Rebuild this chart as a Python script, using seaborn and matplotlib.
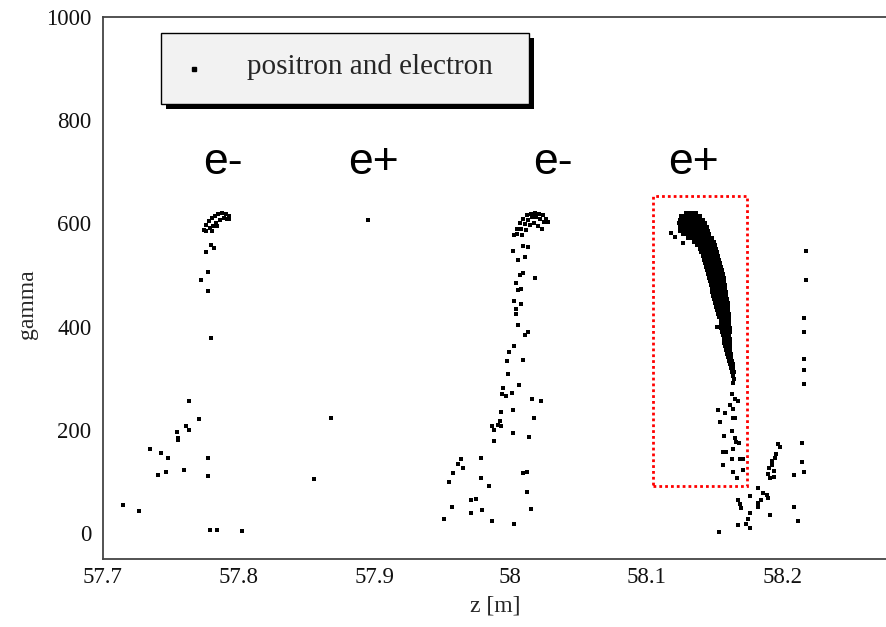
import matplotlib
matplotlib.use("Agg")
import matplotlib.pyplot as plt
import seaborn as sns
import pandas as pd
from matplotlib.patches import Rectangle
from matplotlib.ticker import MultipleLocator, FormatStrFormatter

# first e- bunch
z_ele1 = [57.7149, 57.7269, 57.7348, 57.7429, 57.7478, 57.7409, 57.7468, 57.7549, 57.7556, 57.7556,
          57.7611, 57.7637, 57.7706, 57.7598, 57.7777, 57.7777, 57.7787, 57.7839, 57.8027, 57.7637,
          57.7797, 57.7817, 57.7758, 57.7777, 57.7726, 57.7777, 57.7797,
          57.7742, 57.7760, 57.7782, 57.7804, 57.7826, 57.7852, 57.7878, 57.7904, 57.7926, 57.7933,
          57.7760, 57.7786, 57.7812, 57.7837, 57.7863, 57.7889, 57.7915, 57.7843, 57.7802]
g_ele1 = [54, 43, 164, 156, 145, 113, 118, 196, 185, 180,
          207, 200, 221, 123, 145, 110, 7, 7, 5, 256,
          559, 552, 544, 506, 490, 470, 378,
          587, 597, 605, 610, 615, 618, 620, 619, 614, 608,
          585, 591, 595, 601, 607, 611, 609, 595, 585]

# lone points near the first e+
z_pos1 = [57.8682, 57.8555, 57.8952]
g_pos1 = [224, 105, 606]

# second e- bunch
z_ele2 = [58.0023, 58.0045, 58.0067, 58.0093, 58.0122, 58.0152, 58.0181, 58.0211, 58.0240, 58.0262,
          58.0280, 58.0049, 58.0078, 58.0104, 58.0130, 58.0159, 58.0189, 58.0218, 58.0247, 58.0085,
          58.0115, 58.0144, 58.0174, 58.0203, 58.0229,
          58.0021, 58.0058, 58.0107, 58.0095, 58.0127, 58.0181, 58.0071, 58.0091, 58.0039, 58.0058,
          58.0078, 58.0027, 58.0078, 58.0039, 58.0039, 58.0058, 58.0107, 58.0127, 58.0027, 57.9990,
          57.9977, 58.0095, 57.9985, 57.9948, 58.0066, 57.9936, 57.9965, 58.0010, 58.0157, 58.0225,
          57.9929, 58.0017, 58.0176, 57.9924, 57.9911, 57.9929, 57.9862, 57.9882, 58.0017, 57.9879,
          58.0139, 57.9637, 57.9617, 57.9649, 57.9781, 57.9580, 57.9550, 57.9781, 57.9843, 58.0091,
          58.0120, 58.0120, 57.9710, 57.9747, 57.9573, 57.9710, 57.9789, 58.0149, 57.9511, 57.9862,
          58.0027]
g_ele2 = [577, 589, 600, 609, 617, 619, 620, 618, 616, 609,
          603, 579, 589, 599, 607, 612, 612, 608, 603, 577,
          587, 597, 601, 595, 589,
          546, 530, 535, 556, 554, 495, 501, 504, 484, 471,
          473, 450, 444, 434, 424, 403, 384, 390, 362, 351,
          333, 335, 309, 282, 287, 269, 266, 271, 259, 257,
          235, 238, 224, 218, 209, 207, 207, 200, 194, 178,
          186, 144, 134, 127, 146, 116, 99, 107, 91, 116,
          118, 80, 64, 66, 50, 39, 45, 47, 27, 23,
          18]

# dense e+ bunch (boxed): gamma rows and the z values read in each row
arc_gamma = [621, 614, 607, 600, 593, 586, 579, 572, 565, 558, 551, 544, 537, 530, 523,
             516, 509, 502, 495, 488, 481, 474, 467, 460, 453, 446, 439, 432, 425, 418,
             411, 404, 397, 390, 383, 376, 369, 362, 355, 348, 341, 334, 327, 320, 313]
arc_z = [
    [58.1291, 58.1315, 58.1340, 58.1364],
    [58.1256, 58.1279, 58.1302, 58.1325, 58.1348, 58.1371, 58.1394],
    [58.1247, 58.1271, 58.1295, 58.1319, 58.1343, 58.1367, 58.1391, 58.1414],
    [58.1243, 58.1266, 58.1289, 58.1312, 58.1335, 58.1358, 58.1381, 58.1405, 58.1429],
    [58.1245, 58.1270, 58.1295, 58.1320, 58.1345, 58.1370, 58.1395, 58.1420, 58.1444],
    [58.1251, 58.1276, 58.1301, 58.1326, 58.1352, 58.1378, 58.1404, 58.1430, 58.1455],
    [58.1273, 58.1297, 58.1321, 58.1345, 58.1369, 58.1393, 58.1417, 58.1441, 58.1464],
    [58.1306, 58.1330, 58.1354, 58.1378, 58.1402, 58.1426, 58.1450, 58.1474, 58.1486],
    [58.1349, 58.1372, 58.1395, 58.1418, 58.1441, 58.1463, 58.1484, 58.1497],
    [58.1376, 58.1400, 58.1424, 58.1448, 58.1471, 58.1494, 58.1507],
    [58.1396, 58.1418, 58.1440, 58.1462, 58.1483, 58.1503, 58.1516],
    [58.1404, 58.1411, 58.1436, 58.1461, 58.1486, 58.1510, 58.1523],
    [58.1420, 58.1427, 58.1450, 58.1473, 58.1495, 58.1517, 58.1530],
    [58.1428, 58.1435, 58.1457, 58.1479, 58.1501, 58.1524, 58.1537],
    [58.1435, 58.1442, 58.1464, 58.1486, 58.1508, 58.1530, 58.1543],
    [58.1441, 58.1448, 58.1470, 58.1492, 58.1515, 58.1538, 58.1550],
    [58.1447, 58.1454, 58.1476, 58.1498, 58.1521, 58.1544, 58.1556],
    [58.1454, 58.1461, 58.1483, 58.1506, 58.1528, 58.1551, 58.1562],
    [58.1461, 58.1468, 58.1490, 58.1512, 58.1535, 58.1557, 58.1568],
    [58.1468, 58.1475, 58.1497, 58.1518, 58.1540, 58.1561, 58.1573],
    [58.1475, 58.1482, 58.1503, 58.1524, 58.1545, 58.1565, 58.1577],
    [58.1481, 58.1488, 58.1509, 58.1530, 58.1550, 58.1571, 58.1582],
    [58.1487, 58.1494, 58.1515, 58.1535, 58.1555, 58.1575, 58.1586],
    [58.1494, 58.1501, 58.1521, 58.1540, 58.1560, 58.1579, 58.1590],
    [58.1501, 58.1508, 58.1533, 58.1558, 58.1583, 58.1594],
    [58.1507, 58.1514, 58.1538, 58.1563, 58.1587, 58.1598],
    [58.1514, 58.1521, 58.1544, 58.1567, 58.1590, 58.1601],
    [58.1521, 58.1528, 58.1549, 58.1571, 58.1592, 58.1603],
    [58.1528, 58.1535, 58.1554, 58.1574, 58.1593, 58.1605],
    [58.1534, 58.1541, 58.1559, 58.1577, 58.1594, 58.1607],
    [58.1548, 58.1572, 58.1596, 58.1609],
    [58.1552, 58.1576, 58.1599, 58.1611],
    [58.1552, 58.1569, 58.1586, 58.1603, 58.1614],
    [58.1554, 58.1572, 58.1590, 58.1607, 58.1617],
    [58.1561, 58.1586, 58.1611],
    [58.1568, 58.1592, 58.1615],
    [58.1575, 58.1596, 58.1617],
    [58.1580, 58.1599, 58.1618],
    [58.1584, 58.1601, 58.1618],
    [58.1591, 58.1606, 58.1620],
    [58.1602, 58.1624],
    [58.1609, 58.1630],
    [58.1616, 58.1635],
    [58.1623, 58.1639],
    [58.1627, 58.1643],
]

# scattered points around the dense e+ bunch
z_pos2 = [58.1180, 58.1211, 58.1268, 58.1522, 58.1640, 58.1628, 58.1653, 58.1677, 58.1616, 58.1579,
          58.1530, 58.1640, 58.1542, 58.1640, 58.1653, 58.1628, 58.1574, 58.1653, 58.1660, 58.1684,
          58.1640, 58.1567, 58.1586, 58.1633, 58.1690, 58.1709, 58.1562, 58.1640, 58.1714, 58.1665,
          58.1824, 58.1763, 58.1677, 58.1690, 58.1695, 58.1861, 58.1886, 58.1898, 58.1844, 58.1824,
          58.1824, 58.1910, 58.1763, 58.1751, 58.1734, 58.1673, 58.1763, 58.1535, 58.1640, 58.1643]
g_pos2 = [582, 574, 563, 400, 291, 269, 259, 256, 249, 233,
          238, 240, 216, 223, 223, 198, 189, 185, 177, 175,
          164, 157, 157, 143, 143, 143, 132, 119, 123, 107,
          88, 72, 65, 56, 49, 78, 74, 68, 64, 59,
          50, 36, 39, 27, 18, 16, 10, 2, 305, 298]

# right-hand group
z_right = [58.1971, 58.1984, 58.1952, 58.1947, 58.1923, 58.1903, 58.1910, 58.1940, 58.1940, 58.1898,
           58.1925, 58.2144, 58.2144, 58.2163, 58.2089, 58.2089, 58.2118, 58.2173, 58.2173, 58.2160,
           58.2160, 58.2160, 58.2160, 58.2160]
g_right = [173, 167, 153, 145, 133, 127, 107, 109, 120, 115,
           140, 175, 138, 118, 113, 50, 23, 547, 490, 416,
           390, 338, 316, 289]

bunch_labels = ["e-", "e+", "e-", "e+"]
bunch_label_z = [57.7885, 57.8989, 58.0313, 58.1344]
bunch_label_gamma = 695

box_z = (58.1047, 58.1743)
box_gamma = (91, 653)

W, H = 887, 627

arc_zz, arc_gg = [], []
for g, row in zip(arc_gamma, arc_z):
    arc_zz += row
    arc_gg += [g] * len(row)

df = pd.DataFrame({
    "z": z_ele1 + z_pos1 + z_ele2 + arc_zz + z_pos2 + z_right,
    "gamma": g_ele1 + g_pos1 + g_ele2 + arc_gg + g_pos2 + g_right,
})

sns.set_theme(style="white")
plt.rcParams["font.family"] = ["Liberation Serif", "DejaVu Serif"]

fig = plt.figure(figsize=(W / 100, H / 100), dpi=100)
ax = fig.add_axes([102.7 / W, 1 - 559 / H, (W - 102.7) / W, (559 - 17) / H])

sns.scatterplot(data=df, x="z", y="gamma", marker="s", s=11, color="black",
                linewidth=0, ax=ax, legend=False)

ax.set_xlim(57.7, 58.2771)
ax.set_ylim(-50, 1000)

ax.xaxis.set_major_locator(MultipleLocator(0.1))
ax.xaxis.set_minor_locator(MultipleLocator(0.02))
ax.xaxis.set_major_formatter(FormatStrFormatter("%g"))
ax.yaxis.set_major_locator(MultipleLocator(200))
ax.yaxis.set_minor_locator(MultipleLocator(50))

spine_col = "#444444"
for side in ["left", "bottom", "top"]:
    ax.spines[side].set_color(spine_col)
    ax.spines[side].set_linewidth(1.3)
ax.spines["right"].set_visible(False)

ax.tick_params(axis="both", which="both", direction="in", color=spine_col,
               top=False, right=False, labelsize=16.5, labelcolor="#111111")
ax.tick_params(axis="y", which="major", length=17, width=1.0, pad=8)
ax.tick_params(axis="y", which="minor", length=8.5, width=1.0)
ax.tick_params(axis="x", which="major", length=12, width=1.0, pad=6)
ax.tick_params(axis="x", which="minor", length=6.5, width=1.0)

ax.set_xlabel("z [m]", fontsize=17)
ax.set_ylabel("gamma", fontsize=17)
ax.xaxis.set_label_coords(0.5, -0.068)
ax.yaxis.set_label_coords(-0.082, 0.47)

# boxed region
ax.add_patch(Rectangle((box_z[0], box_gamma[0]), box_z[1] - box_z[0], box_gamma[1] - box_gamma[0],
                       fill=False, edgecolor="red", linewidth=2, linestyle=(0, (1, 1.1))))

for lab, zl in zip(bunch_labels, bunch_label_z):
    ax.text(zl, bunch_label_gamma, lab, ha="center", va="baseline", fontsize=32,
            family=["Liberation Sans", "DejaVu Sans"], color="black")

# legend box drawn ROOT-style with a hard shadow
def px(x, y):
    return x / W, 1 - y / H

sx, sy = px(166, 109)
fig.add_artist(Rectangle((sx, sy), 368 / W, 71 / H, transform=fig.transFigure,
                         facecolor="black", edgecolor="black", linewidth=0, zorder=5))
bx, by = px(161, 104)
fig.add_artist(Rectangle((bx, by), 368 / W, 71 / H, transform=fig.transFigure,
                         facecolor="#f2f2f2", edgecolor="black", linewidth=1.0, zorder=6))
mx, my = px(194, 69)
fig.add_artist(plt.Line2D([mx], [my], marker="s", markersize=3.2, color="black",
                          linestyle="none", transform=fig.transFigure, zorder=7))
tx, ty = px(247, 67)
fig.text(tx, ty, "positron and electron", ha="left", va="center", fontsize=21, zorder=7)

fig.savefig("out.png", dpi=100)
